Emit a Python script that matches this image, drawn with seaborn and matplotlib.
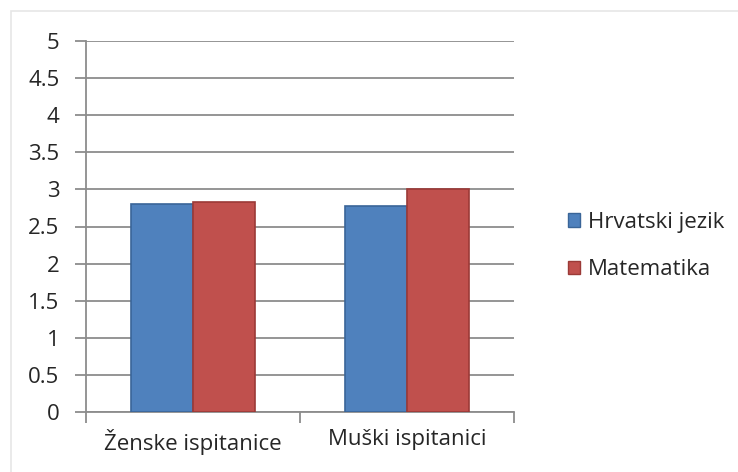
import numpy as np
import pandas as pd
import matplotlib
matplotlib.use("Agg")
import matplotlib.pyplot as plt
import seaborn as sns
from matplotlib.patches import Rectangle

# ---------------------------------------------------------------------------
# Data
# ---------------------------------------------------------------------------
groups = ["Ženske ispitanice", "Muški ispitanici"]
subjects = ["Hrvatski jezik", "Matematika"]
hrvatski = [2.80, 2.78]
matematika = [2.83, 3.00]
y_ticks = [0, 0.5, 1, 1.5, 2, 2.5, 3, 3.5, 4, 4.5, 5]
y_labels = ["0", "0.5", "1", "1.5", "2", "2.5", "3", "3.5", "4", "4.5", "5"]

COLORS = {"Hrvatski jezik": "#4F81BD", "Matematika": "#C0504D"}
EDGES = {"Hrvatski jezik": "#3A6598", "Matematika": "#9B3A37"}
GRID = "#8C8C8C"
FS = 16

df = pd.DataFrame({
    "group": groups * 2,
    "subject": [subjects[0]] * 2 + [subjects[1]] * 2,
    "value": hrvatski + matematika,
})

sns.set_style("white")
plt.rcParams["font.family"] = ["Open Sans", "DejaVu Sans"]

fig = plt.figure(figsize=(7.38, 4.72), dpi=100)
fig.patches.append(Rectangle((11 / 738, -0.05), 1.0, (472 - 11) / 472 + 0.05,
                             transform=fig.transFigure, fill=False,
                             edgecolor="#E6E6E6", linewidth=1.2))
ax = fig.add_axes([86 / 738, 60 / 472, 428 / 738, 371 / 472])

sns.barplot(data=df, x="group", y="value", hue="subject", order=groups,
            hue_order=subjects, palette=COLORS, saturation=1, width=0.575,
            gap=0.0, ax=ax, legend=False, zorder=3)

# darker edges to hint the bevelled look
for bar, subj in zip(ax.patches, [s for s in subjects for _ in groups]):
    bar.set_edgecolor(EDGES[subj])
    bar.set_linewidth(1.2)

ax.set_ylim(0, 5)
ax.set_xlim(-0.5, 1.5)
ax.set_yticks(y_ticks)
ax.set_yticklabels(y_labels)
ax.yaxis.grid(True, color=GRID, linewidth=1.3, zorder=0)
ax.set_axisbelow(True)
ax.set_xlabel("")
ax.set_ylabel("")

for side in ["top", "right"]:
    ax.spines[side].set_visible(False)
for side in ["left", "bottom"]:
    ax.spines[side].set_color(GRID)
    ax.spines[side].set_linewidth(1.3)

ax.tick_params(axis="y", direction="out", length=8, width=1.3, color=GRID,
               labelsize=FS, pad=11, left=True)
ax.tick_params(axis="x", which="major", length=0, labelsize=FS, pad=12)
ax.set_xticks([-0.5, 0.5, 1.5], minor=True)
ax.tick_params(axis="x", which="minor", direction="out", length=8,
               width=1.3, color=GRID, bottom=True)

handles = [Rectangle((0, 0), 1, 1, facecolor=COLORS[s], edgecolor=EDGES[s])
           for s in subjects]
fig.legend(handles, subjects, loc="center left",
           bbox_to_anchor=(548 / 738, 1 - 246 / 472), frameon=False,
           fontsize=FS, handlelength=0.55, handleheight=0.55,
           handletextpad=0.35, labelspacing=1.2)

fig.savefig("out.png", dpi=100)
